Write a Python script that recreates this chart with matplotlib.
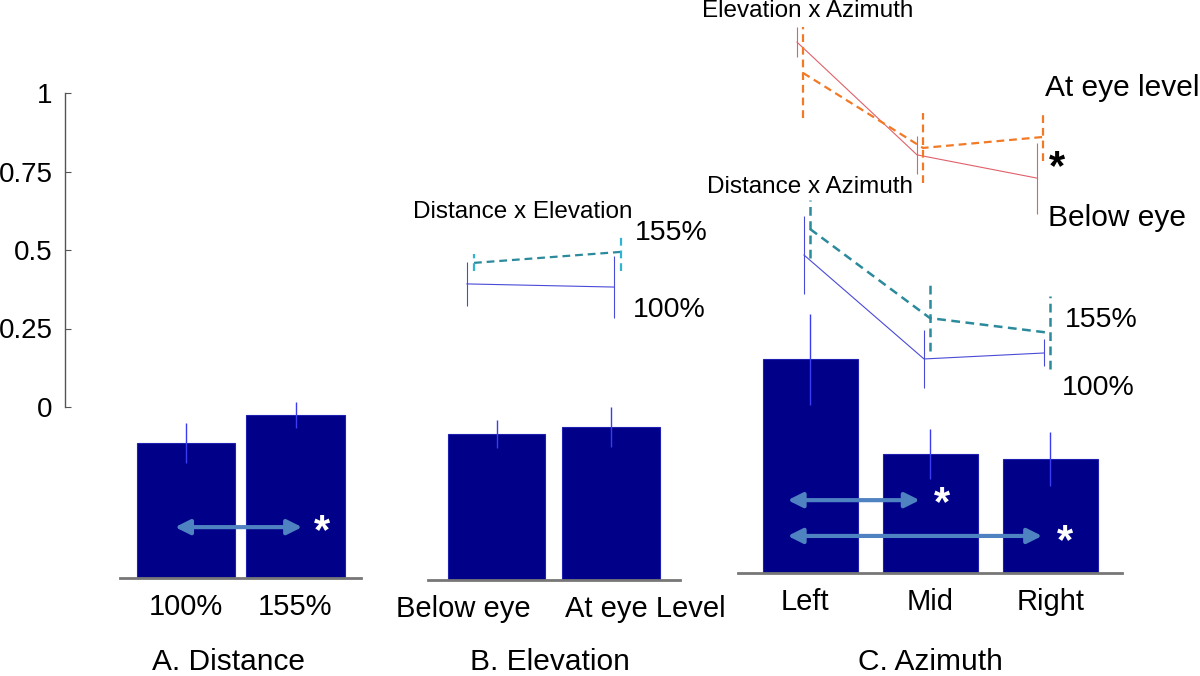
import matplotlib
matplotlib.use("Agg")
import matplotlib.pyplot as plt
import numpy as np

plt.rcParams['font.family'] = ['Liberation Sans', 'DejaVu Sans']

#################################################################################
# data (all values in the units of the left axis)
#################################################################################
dist_labels = ['100%', '155%']
dist_means = [0.43, 0.52]
dist_err = [0.064, 0.042]

elev_labels = ['Below eye', 'At eye Level']
elev_means = [0.465, 0.487]
elev_err = [0.045, 0.064]

azim_labels = ['Left', 'Mid', 'Right']
azim_means = [0.68, 0.38, 0.363]
azim_err = [0.146, 0.08, 0.086]

# Distance x Elevation (x = below eye, at eye level)
de_100 = [0.392, 0.382]
de_100_err = [0.07, 0.10]
de_155 = [0.459, 0.494]
de_155_err = [0.027, 0.06]

# Elevation x Azimuth (x = left, mid, right)
ea_below = [1.162, 0.803, 0.729]
ea_below_err = [0.048, 0.06, 0.113]
ea_at = [1.064, 0.825, 0.86]
ea_at_err = [0.145, 0.111, 0.078]

# Distance x Azimuth (x = left, mid, right)
da_100 = [0.484, 0.153, 0.172]
da_100_err = [0.123, 0.091, 0.043]
da_155 = [0.567, 0.283, 0.236]
da_155_err = [0.092, 0.105, 0.116]

#################################################################################
# layout
#################################################################################
W, H = 1200, 676
UNIT = 314.0      # pixels per unit on the value scale
Y0 = 407          # pixel row of value 0 on the left axis

BAR_C = '#000088'
BAR_ERR = '#3c3cf0'
BLUE = '#4a4ad8'
TEAL = '#2b8a9c'
CYAN = '#2fb4d4'
SALMON = '#e0606a'
ORANGE = '#f27a26'
ARROW = '#4f82c0'

fig = plt.figure(figsize=(W / 100, H / 100), dpi=100)


def px_axes(x0, x1, top, bottom):
    ax = fig.add_axes([x0 / W, 1 - bottom / H, (x1 - x0) / W, (bottom - top) / H])
    ax.patch.set_alpha(0)
    return ax


# left value axis
yax = px_axes(65, 90, 93, 407)
yax.set_ylim(0, 1)
yax.set_xlim(0, 1)
for s in ['top', 'right', 'bottom']:
    yax.spines[s].set_visible(False)
yax.spines['left'].set_color('#555555')
yax.spines['left'].set_linewidth(1)
yax.set_xticks([])
yax.set_yticks([0, 0.25, 0.5, 0.75, 1])
yax.set_yticklabels(['0', '0.25', '0.5', '0.75', '1'])
yax.tick_params(axis='y', direction='in', length=4, color='#555555',
                labelsize=20, pad=9)


#################################################################################
# bar panels
#################################################################################
def bar_panel(labels, means, errs, c0, sp, baseline, width, label_shift=None):
    n = len(labels)
    ax = px_axes(c0 - 0.6 * sp, c0 + (n - 1 + 0.6) * sp, 250, baseline)
    ax.set_xlim(-0.6, n - 1 + 0.6)
    ax.set_ylim(0, (baseline - 250) / UNIT)
    x = np.arange(n)
    ax.bar(x, means, width=width, color=BAR_C, edgecolor='#2020b0', linewidth=0.8, zorder=2)
    ax.vlines(x, np.array(means) - np.array(errs), np.array(means) + np.array(errs),
              color=BAR_ERR, linewidth=1, zorder=3)
    for s in ['top', 'right', 'left']:
        ax.spines[s].set_visible(False)
    ax.spines['bottom'].set_color('#777777')
    ax.spines['bottom'].set_linewidth(2)
    ax.set_yticks([])
    ticks = x + (np.array(label_shift) if label_shift is not None else 0)
    ax.set_xticks(ticks)
    ax.set_xticklabels(labels)
    ax.tick_params(axis='x', length=0, labelsize=21, pad=11)
    return ax


def double_arrow(ax, xa, xb, y, xs, ys):
    ax.annotate('', xy=(xb, y), xytext=(xa, y),
                arrowprops=dict(arrowstyle='<|-|>', color=ARROW, lw=3,
                                mutation_scale=22, shrinkA=0, shrinkB=0), zorder=4)
    ax.text(xs, ys, '*', color='white', fontsize=30, fontweight='bold',
            ha='center', va='center', zorder=5)


axA = bar_panel(dist_labels, dist_means, dist_err, 186, 109.5, 578, 0.895)
double_arrow(axA, -0.10, 1.06, 0.162, 1.24, 0.145)

axB = bar_panel(elev_labels, elev_means, elev_err, 496.5, 114.5, 580, 0.85,
                label_shift=[-0.29, 0.30])

axC = bar_panel(azim_labels, azim_means, azim_err, 810.5, 120, 573, 0.79,
                label_shift=[-0.05, 0.0, 0.0])
double_arrow(axC, -0.19, 0.91, 0.232, 1.10, 0.218)
double_arrow(axC, -0.19, 1.93, 0.118, 2.12, 0.10)

fig.text(228 / W, 1 - 662 / H, 'A. Distance', fontsize=21.5, ha='center', va='center')
fig.text(550 / W, 1 - 662 / H, 'B. Elevation', fontsize=21.5, ha='center', va='center')
fig.text(930 / W, 1 - 662 / H, 'C. Azimuth', fontsize=21.5, ha='center', va='center')


#################################################################################
# interaction plots
#################################################################################
def inter_axes(c0, sp, n):
    ax = px_axes(c0 - 0.5 * sp, c0 + (n - 0.5) * sp, 0, H)
    ax.set_xlim(-0.5, n - 0.5)
    ax.set_ylim((Y0 - H) / UNIT, Y0 / UNIT)
    ax.axis('off')
    return ax


def series(ax, vals, errs, dx, color, ls, lw, ecolor=None):
    x = np.arange(len(vals)) + dx
    v = np.array(vals)
    e = np.array(errs)
    if ls == '--':
        ax.plot(x, v, color=color, linewidth=lw, dashes=(3.5, 2.2))
        ax.vlines(x, v - e, v + e, color=ecolor or color, linewidth=lw,
                  linestyles=(0, (3.5, 2.2)))
    else:
        ax.plot(x, v, color=color, linewidth=lw)
        ax.vlines(x, v - e, v + e, color=ecolor or color, linewidth=lw)


ax_de = inter_axes(470.5, 147, 2)
series(ax_de, de_100, de_100_err, -0.024, BLUE, '-', 0.8)
series(ax_de, de_155, de_155_err, 0.024, TEAL, '--', 1.6, CYAN)

ax_ea = inter_axes(800, 120, 3)
series(ax_ea, ea_below, ea_below_err, -0.025, SALMON, '-', 0.8)
series(ax_ea, ea_at, ea_at_err, 0.025, ORANGE, '--', 1.6)

ax_da = inter_axes(807, 120, 3)
series(ax_da, da_100, da_100_err, -0.025, BLUE, '-', 0.8)
series(ax_da, da_155, da_155_err, 0.025, TEAL, '--', 1.8)


def label(x, y, s, size, ha='left', **kw):
    fig.text(x / W, 1 - y / H, s, fontsize=size, ha=ha, va='center', **kw)


label(523, 212, 'Distance x Elevation', 17.5, ha='center')
label(635, 233, '155%', 20.5)
label(633, 310, '100%', 20.5)

label(808, 11, 'Elevation x Azimuth', 17.5, ha='center')
label(1045, 88, 'At eye level', 21.5)
label(1048, 218, 'Below eye', 21.5)
label(1057, 168, '*', 30, ha='center', fontweight='bold')

label(810, 187, 'Distance x Azimuth', 17.5, ha='center')
label(1065, 320, '155%', 20.5)
label(1062, 388, '100%', 20.5)

fig.savefig('out.png', dpi=100)
